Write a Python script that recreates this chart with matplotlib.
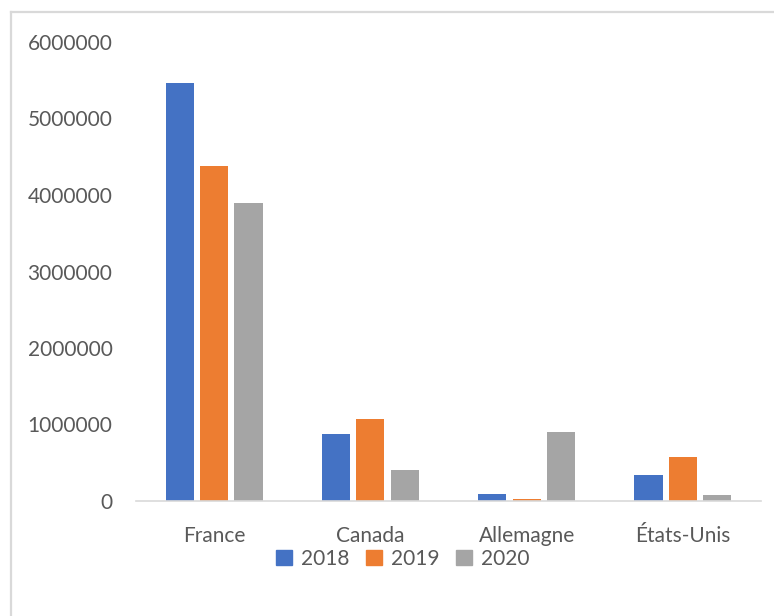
import matplotlib
matplotlib.use("Agg")
import matplotlib.pyplot as plt
import numpy as np
from matplotlib.lines import Line2D

categories = ["France", "Canada", "Allemagne", "États-Unis"]
years = ["2018", "2019", "2020"]
v2018 = [5470000, 880000, 96000, 340000]
v2019 = [4380000, 1076000, 22000, 571000]
v2020 = [3900000, 410000, 900000, 74000]
yticks = [0, 1000000, 2000000, 3000000, 4000000, 5000000, 6000000]
colors = ["#4472C4", "#ED7D31", "#A5A5A5"]

plt.rcParams['font.family'] = ['Lato', 'DejaVu Sans']
W, H = 774, 616
fig = plt.figure(figsize=(W / 100, H / 100), dpi=100)

# chart border (extends past right/bottom edges)
fig.add_artist(Line2D([11 / W, 11 / W], [1 - 12 / H, 0], color="#d9d9d9", lw=1.6))
fig.add_artist(Line2D([11 / W, 1], [1 - 12 / H, 1 - 12 / H], color="#d9d9d9", lw=1.6))

ax_l, ax_r, ax_t, ax_b = 136, 761, 42, 501
ax = fig.add_axes([ax_l / W, 1 - ax_b / H, (ax_r - ax_l) / W, (ax_b - ax_t) / H])

x = np.arange(len(categories))
bw = 0.18
step = 0.22
series = [v2018, v2019, v2020]
for i, (vals, c, lab) in enumerate(zip(series, colors, years)):
    ax.bar(x + (i - 1) * step, vals, width=bw, color=c, label=lab, zorder=2)

ax.set_xlim(-0.5, len(categories) - 0.5)
ax.set_ylim(0, 6000000)
ax.set_yticks(yticks)
ax.set_yticklabels([str(v) for v in yticks])
ax.set_xticks(x)
ax.set_xticklabels(categories)
for s in ["top", "right", "left"]:
    ax.spines[s].set_visible(False)
ax.spines["bottom"].set_color("#d9d9d9")
ax.spines["bottom"].set_linewidth(1.2)
ax.tick_params(axis="both", length=0, labelsize=15, colors="#595959")
ax.tick_params(axis="y", pad=17)
ax.tick_params(axis="x", pad=18)

handles = [plt.Rectangle((0, 0), 1, 1, color=c) for c in colors]
fig.legend(handles, years, loc="center", bbox_to_anchor=(403 / W, 1 - 559 / H),
           ncol=3, frameon=False, fontsize=15, handlelength=0.75, handleheight=0.75,
           handletextpad=0.45, columnspacing=0.8, labelcolor="#595959")

fig.savefig("out.png", dpi=100, facecolor="white")
